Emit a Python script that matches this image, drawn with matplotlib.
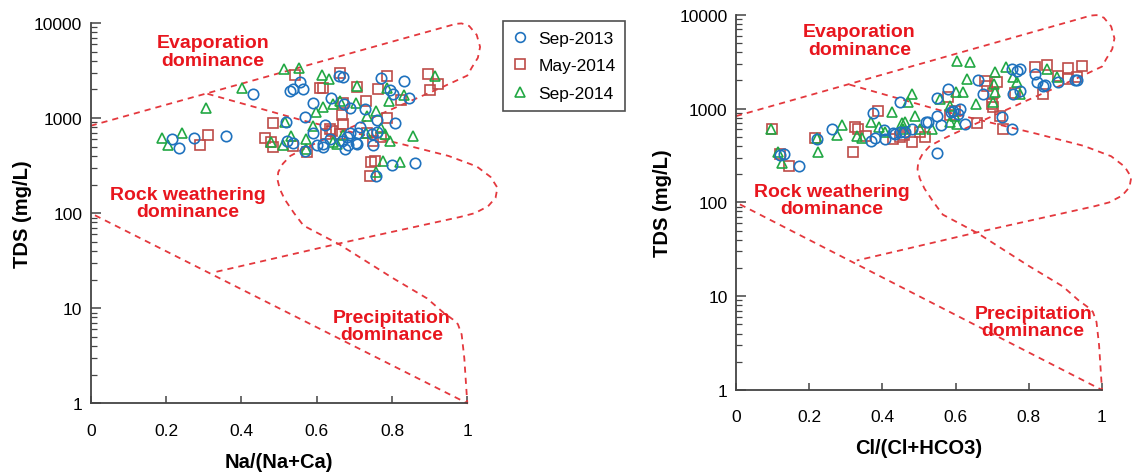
import matplotlib
matplotlib.use('Agg')
import matplotlib.pyplot as plt
from matplotlib.ticker import LogLocator, NullFormatter, FixedLocator
from matplotlib.lines import Line2D

plt.rcParams['font.family'] = ['Liberation Sans', 'DejaVu Sans']

# ---------------- data ----------------
series_labels = ['Sep-2013', 'May-2014', 'Sep-2014']

# Left panel: Na/(Na+Ca) vs TDS
na_sep13_x = [0.217, 0.235, 0.275, 0.358, 0.43, 0.518, 0.529, 0.536, 0.556, 0.565, 0.57, 0.59,
              0.52, 0.537, 0.57, 0.589, 0.6, 0.618, 0.622, 0.638, 0.66, 0.67, 0.673, 0.688,
              0.675, 0.684, 0.706, 0.688, 0.715, 0.71, 0.728, 0.75, 0.746, 0.759, 0.771, 0.796,
              0.803, 0.832, 0.845, 0.808, 0.758, 0.799, 0.861, 0.635, 0.666, 0.704, 0.759, 0.68, 0.616]
na_sep13_y = [600, 480, 610, 650, 1780, 910, 1940, 2030, 2380, 2020, 1020, 1440,
              575, 550, 455, 690, 525, 500, 850, 1620, 2760, 2700, 1420, 1280,
              470, 525, 540, 700, 810, 700, 1250, 515, 680, 950, 2630, 1970,
              1790, 2450, 1620, 880, 245, 320, 340, 600, 575, 550, 710, 630, 535]

na_may14_x = [0.291, 0.311, 0.463, 0.478, 0.483, 0.485, 0.542, 0.537, 0.574, 0.609, 0.618, 0.662,
              0.635, 0.64, 0.662, 0.667, 0.669, 0.67, 0.707, 0.731, 0.733, 0.75, 0.772, 0.763,
              0.787, 0.786, 0.825, 0.745, 0.755, 0.741, 0.896, 0.90, 0.922, 0.626]
na_may14_y = [515, 660, 615, 555, 500, 880, 2860, 510, 440, 2080, 2080, 3000,
              770, 725, 680, 1090, 1430, 870, 2100, 1500, 705, 570, 630, 2040,
              2750, 990, 1550, 345, 355, 245, 2900, 1970, 2300, 675]

na_sep14_x = [0.19, 0.204, 0.243, 0.306, 0.401, 0.513, 0.553, 0.516, 0.48, 0.511, 0.533, 0.573,
              0.573, 0.59, 0.598, 0.613, 0.633, 0.617, 0.643, 0.662, 0.653, 0.671, 0.707, 0.704,
              0.733, 0.757, 0.772, 0.781, 0.786, 0.792, 0.795, 0.776, 0.821, 0.831, 0.856, 0.914,
              0.757, 0.644, 0.732]
na_sep14_y = [615, 525, 690, 1290, 2050, 3300, 3350, 910, 560, 525, 650, 600,
              475, 830, 1150, 2850, 2580, 1300, 1410, 1510, 540, 660, 2150, 1430,
              1060, 1180, 790, 680, 2050, 1530, 570, 355, 343, 1760, 650, 2750,
              270, 560, 700]

# Right panel: Cl/(Cl+HCO3) vs TDS
cl_sep13_x = [0.12, 0.13, 0.172, 0.22, 0.262, 0.368, 0.375, 0.38, 0.405, 0.408, 0.428, 0.434,
              0.448, 0.448, 0.462, 0.48, 0.52, 0.525, 0.548, 0.548, 0.548, 0.561, 0.58, 0.588,
              0.594, 0.607, 0.612, 0.626, 0.662, 0.676, 0.726, 0.755, 0.753, 0.767, 0.776,
              0.758, 0.776, 0.817, 0.822, 0.839, 0.844, 0.881, 0.926, 0.933]
cl_sep13_y = [316, 330, 245, 473, 600, 454, 896, 490, 595, 470, 550, 535,
              557, 1180, 565, 600, 710, 713, 837, 1290, 336, 667, 1620, 910,
              950, 870, 1000, 684, 1990, 1430, 805, 605, 2620, 2530, 2620,
              1430, 1550, 2330, 1900, 1740, 1780, 1900, 1990, 2000]

cl_may14_x = [0.098, 0.12, 0.145, 0.216, 0.32, 0.325, 0.334, 0.355, 0.389, 0.43, 0.448, 0.46,
              0.48, 0.503, 0.516, 0.58, 0.585, 0.598, 0.658, 0.68, 0.685, 0.703, 0.712, 0.70,
              0.703, 0.721, 0.73, 0.762, 0.817, 0.84, 0.851, 0.881, 0.908, 0.908, 0.931, 0.945]
cl_may14_y = [605, 326, 242, 485, 345, 630, 600, 515, 950, 470, 495, 520,
              440, 557, 495, 1320, 850, 950, 700, 1980, 1740, 1450, 1900, 1120,
              1050, 830, 610, 1480, 2760, 1430, 2900, 2240, 2680, 2050, 2150, 2860]

cl_sep14_x = [0.096, 0.116, 0.125, 0.22, 0.223, 0.29, 0.275, 0.33, 0.343, 0.37, 0.392, 0.407,
              0.425, 0.453, 0.462, 0.48, 0.471, 0.489, 0.503, 0.535, 0.557, 0.585, 0.585, 0.598,
              0.605, 0.601, 0.621, 0.605, 0.639, 0.63, 0.656, 0.703, 0.708, 0.705, 0.708, 0.738,
              0.758, 0.767, 0.776, 0.849, 0.876, 0.455]
cl_sep14_y = [605, 340, 263, 480, 348, 667, 521, 513, 490, 713, 630, 557,
              925, 700, 713, 1430, 1165, 835, 605, 605, 1260, 1070, 713, 835,
              684, 1490, 1490, 3240, 3100, 2050, 1120, 1165, 2430, 1820, 1490, 2760,
              2150, 1900, 1430, 2620, 2150, 600]

# Gibbs boundary curves (data coordinates)
outer_x = [0.0, 0.97, 0.985, 1.005, 1.025, 1.034, 1.028, 1.012, 1.0, 0.935, 0.787, 0.6, 0.565,
           0.53, 0.51, 0.498, 0.496, 0.502, 0.515, 0.54, 0.565, 0.66, 0.8, 0.893, 0.935, 0.962,
           0.975, 0.985, 0.992, 1.0, 0.0]
outer_y = [830, 9800, 9900, 9300, 7500, 5600, 4300, 3400, 2800, 2130, 1180, 550, 473,
           400, 330, 270, 225, 180, 140, 100, 74, 47, 21, 12.7, 9.1, 7.6,
           6.8, 5.3, 3.0, 1.0, 100]
inner_x = [0.31, 0.565, 0.82, 0.95, 1.025, 1.062, 1.08, 1.075, 1.055, 1.02, 0.98, 0.66, 0.33]
inner_y = [1800, 940, 540, 400, 310, 240, 185, 145, 118, 100, 91, 48, 24]

xtick_vals = [0, 0.2, 0.4, 0.6, 0.8, 1.0]
xtick_labels = ['0', '0.2', '0.4', '0.6', '0.8', '1']
ytick_vals = [1, 10, 100, 1000, 10000]
ytick_labels = ['1', '10', '100', '1000', '10000']

region_labels = ['Evaporation\ndominance', 'Rock weathering\ndominance', 'Precipitation\ndominance']
left_label_pos = [(0.325, 5000), (0.258, 128), (0.80, 6.5)]
right_label_pos = [(0.337, 5300), (0.262, 105), (0.812, 5.3)]

# ---------------- style ----------------
c_blue = '#1F72BE'
c_red = '#BE4B48'
c_green = '#22A844'
c_curve = '#E4383D'
c_text = '#E8161E'
c_axis = '#444444'

W, H = 1139, 477
fig = plt.figure(figsize=(W / 100, H / 100), dpi=100)
axL = fig.add_axes([90.7 / W, 1 - 404.3 / H, 376.6 / W, 380.3 / H])
axR = fig.add_axes([736 / W, 1 - 391 / H, 366 / W, 375.3 / H])


def style_axis(ax):
    ax.set_yscale('log')
    ax.set_xlim(0, 1)
    ax.set_ylim(1, 10000)
    ax.xaxis.set_major_locator(FixedLocator(xtick_vals))
    ax.set_xticklabels(xtick_labels)
    ax.yaxis.set_major_locator(FixedLocator(ytick_vals))
    ax.set_yticklabels(ytick_labels)
    ax.yaxis.set_minor_locator(LogLocator(base=10, subs=range(2, 10)))
    ax.yaxis.set_minor_formatter(NullFormatter())
    for s in ['top', 'right']:
        ax.spines[s].set_visible(False)
    for s in ['left', 'bottom']:
        ax.spines[s].set_color(c_axis)
        ax.spines[s].set_linewidth(1.3)
    ax.tick_params(axis='x', which='major', direction='in', length=5, width=1.1,
                   color=c_axis, labelsize=12.5, pad=14)
    ax.tick_params(axis='y', which='major', direction='in', length=7, width=1.1,
                   color=c_axis, labelsize=12.5, pad=6)
    ax.tick_params(axis='y', which='minor', direction='in', length=4, width=0.9,
                   color=c_axis)


def draw_curves(ax):
    for xs, ys in [(outer_x, outer_y), (inner_x, inner_y)]:
        ax.plot(xs, ys, color=c_curve, lw=1.3, linestyle=(0, (3.4, 2.8)),
                clip_on=False, zorder=2)


def draw_points(ax, s1, s2, s3):
    ax.plot(s2[0], s2[1], linestyle='none', marker='s', ms=7, mfc='none', mec=c_red,
            mew=1.2, zorder=3)
    ax.plot(s3[0], s3[1], linestyle='none', marker='^', ms=7.5, mfc='none', mec=c_green,
            mew=1.2, zorder=3)
    ax.plot(s1[0], s1[1], linestyle='none', marker='o', ms=7.5, mfc='none', mec=c_blue,
            mew=1.2, zorder=4)


def draw_labels(ax, positions):
    for txt, (x, y) in zip(region_labels, positions):
        ax.text(x, y, txt, ha='center', va='center', color=c_text, fontsize=14,
                fontweight='bold', linespacing=1.02, zorder=5)


for ax in (axL, axR):
    style_axis(ax)
    draw_curves(ax)

draw_points(axL, (na_sep13_x, na_sep13_y), (na_may14_x, na_may14_y), (na_sep14_x, na_sep14_y))
draw_points(axR, (cl_sep13_x, cl_sep13_y), (cl_may14_x, cl_may14_y), (cl_sep14_x, cl_sep14_y))
draw_labels(axL, left_label_pos)
draw_labels(axR, right_label_pos)

axL.set_xlabel('Na/(Na+Ca)', fontsize=14.5, fontweight='bold', va='center')
axL.xaxis.set_label_coords(0.5, -0.152)
axL.set_ylabel('TDS (mg/L)', fontsize=14.5, fontweight='bold', va='center')
axL.yaxis.set_label_coords(-0.180, 0.5)

axR.set_xlabel('Cl/(Cl+HCO3)', fontsize=14.5, fontweight='bold', va='center')
axR.xaxis.set_label_coords(0.5, -0.152)
axR.set_ylabel('TDS (mg/L)', fontsize=14.5, fontweight='bold', va='center')
axR.yaxis.set_label_coords(-0.202, 0.5)

handles = [
    Line2D([], [], linestyle='none', marker='o', ms=7, mfc='none', mec=c_blue, mew=1.2),
    Line2D([], [], linestyle='none', marker='s', ms=7, mfc='none', mec=c_red, mew=1.2),
    Line2D([], [], linestyle='none', marker='^', ms=7, mfc='none', mec=c_green, mew=1.2),
]
leg = fig.legend(handles, series_labels, loc='upper left',
                 bbox_to_anchor=(503 / W, 1 - 22 / H), bbox_transform=fig.transFigure,
                 frameon=True, fancybox=False, edgecolor='#222222', fontsize=12.5,
                 borderpad=0.55, labelspacing=0.72, handlelength=0.9, handletextpad=0.6,
                 borderaxespad=0)
leg.get_frame().set_linewidth(1.2)

fig.savefig('out.png', dpi=100)
